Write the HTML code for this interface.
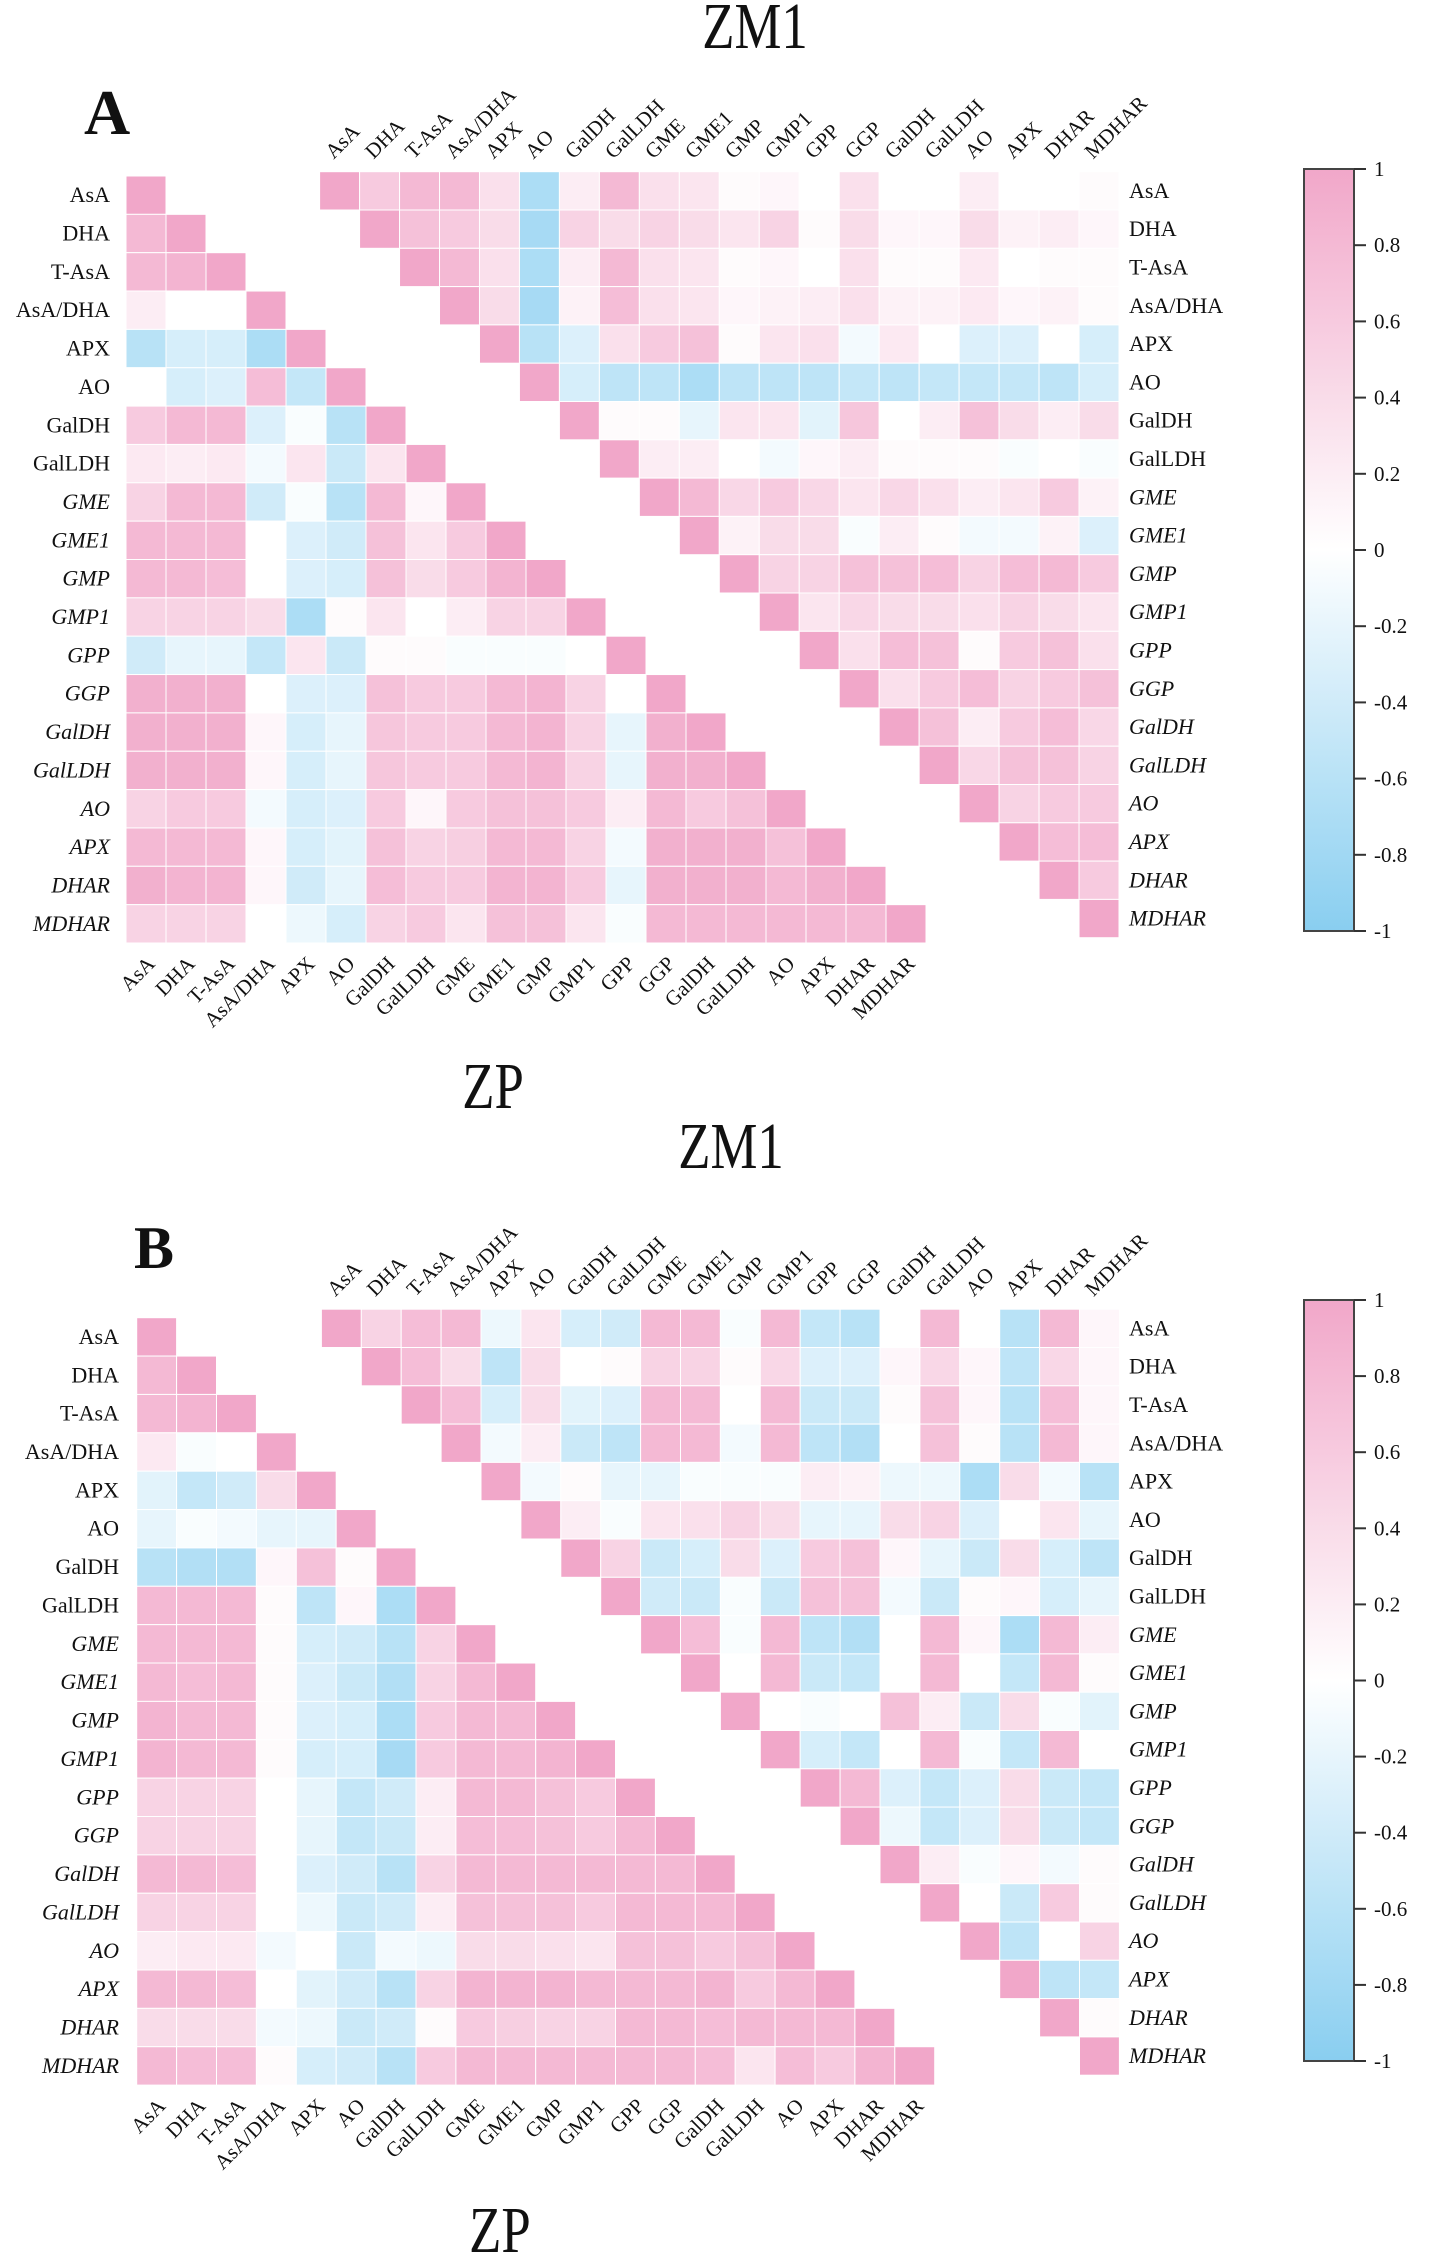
<!DOCTYPE html>
<html><head><meta charset="utf-8">
<style>
html,body{margin:0;padding:0;background:#fff;}
svg{display:block;}
text{font-family:"Liberation Serif",serif;fill:#111;}
</style></head>
<body>
<svg id="fig" xmlns="http://www.w3.org/2000/svg" width="1433" height="2262" viewBox="0 0 1433 2262">
<text x="755" y="48" font-size="66" text-anchor="middle" transform="translate(755,0) scale(0.8,1) translate(-755,0)">ZM1</text>
<text x="84" y="134" font-size="64" font-weight="bold">A</text>
<text x="493" y="1108" font-size="66" text-anchor="middle" transform="translate(493,0) scale(0.8,1) translate(-493,0)">ZP</text>
<text x="731" y="1168" font-size="66" text-anchor="middle" transform="translate(731,0) scale(0.8,1) translate(-731,0)">ZM1</text>
<text x="134" y="1268" font-size="60" font-weight="bold">B</text>
<text x="500" y="2252" font-size="66" text-anchor="middle" transform="translate(500,0) scale(0.8,1) translate(-500,0)">ZP</text>
</svg>
<script>
const labels = ["AsA","DHA","T-AsA","AsA/DHA","APX","AO","GalDH","GalLDH","GME","GME1","GMP","GMP1","GPP","GGP","GalDH","GalLDH","AO","APX","DHAR","MDHAR"];
const cbTicks = [1,0.8,0.6,0.4,0.2,0,-0.2,-0.4,-0.6,-0.8,-1];

const lowerA = [
[1],
[.8,1],
[.8,.85,1],
[.2,0,0,1],
[-.6,-.35,-.35,-.7,1],
[0,-.35,-.3,.75,-.5,1],
[.6,.8,.8,-.3,-.05,-.6,1],
[.25,.2,.25,-.1,.3,-.45,.3,1],
[.5,.8,.8,-.4,-.05,-.6,.8,.1,1],
[.8,.8,.8,0,-.3,-.4,.7,.3,.6,1],
[.8,.8,.75,0,-.3,-.35,.7,.4,.6,.85,1],
[.5,.5,.5,.4,-.7,.05,.3,0,.2,.5,.5,1],
[-.4,-.2,-.2,-.5,.3,-.45,.05,.05,-.05,-.05,-.05,0,1],
[.9,.9,.9,0,-.3,-.3,.7,.6,.6,.8,.85,.5,0,1],
[.9,.9,.9,.1,-.35,-.2,.65,.6,.6,.8,.85,.5,-.2,.9,1],
[.9,.9,.9,.1,-.35,-.2,.65,.6,.6,.8,.85,.5,-.2,.9,.9,1],
[.5,.6,.6,-.1,-.35,-.3,.6,.1,.6,.7,.7,.6,.2,.8,.6,.7,1],
[.8,.8,.8,.1,-.35,-.25,.7,.5,.55,.8,.8,.5,-.1,.9,.9,.9,.7,1],
[.9,.85,.85,.1,-.4,-.2,.75,.6,.6,.85,.85,.6,-.2,.9,.9,.9,.8,.9,1],
[.5,.5,.5,0,-.15,-.35,.5,.6,.3,.7,.7,.3,-.05,.8,.8,.8,.8,.8,.8,1]
];
const upperA = [
[1,.6,.8,.8,.35,-.7,.2,.8,.35,.3,.05,.1,0,.35,0,0,.2,0,0,.05],
[1,.7,.6,.4,-.75,.5,.4,.5,.4,.3,.5,.05,.4,.1,.1,.4,.15,.2,.1],
[1,.8,.35,-.7,.2,.8,.35,.3,.05,.1,0,.35,.05,.05,.25,0,.05,.05],
[1,.4,-.75,.15,.75,.35,.3,.1,.15,.2,.35,.15,.15,.25,.1,.15,.05],
[1,-.6,-.3,.35,.6,.7,.05,.3,.35,-.1,.25,0,-.3,-.3,0,-.35],
[1,-.35,-.55,-.55,-.7,-.55,-.55,-.55,-.5,-.55,-.5,-.5,-.5,-.55,-.35],
[1,.05,.05,-.2,.3,.3,-.25,.65,0,.2,.7,.4,.2,.4],
[1,.2,.2,0,-.1,.1,.2,.05,.05,.05,-.05,0,-.05],
[1,.8,.45,.6,.45,.3,.45,.35,.2,.3,.6,.15],
[1,.15,.4,.4,-.05,.2,.05,-.1,-.1,.15,-.3],
[1,.5,.5,.7,.7,.75,.5,.75,.8,.6],
[1,.3,.45,.4,.4,.35,.5,.4,.3],
[1,.35,.75,.7,.05,.6,.7,.35],
[1,.35,.6,.75,.5,.6,.7],
[1,.7,.2,.6,.75,.45],
[1,.45,.7,.7,.5],
[1,.5,.6,.6],
[1,.75,.75],
[1,.6],
[1]
];
const lowerB = [
[1],
[.8,1],
[.8,.85,1],
[.25,-.05,0,1],
[-.25,-.5,-.4,.4,1],
[-.2,-.05,-.1,-.2,-.2,1],
[-.6,-.65,-.65,.1,.7,.05,1],
[.8,.8,.8,.05,-.55,.1,-.7,1],
[.8,.8,.8,.05,-.35,-.4,-.6,.5,1],
[.8,.75,.8,.05,-.3,-.45,-.65,.5,.8,1],
[.85,.8,.8,.05,-.3,-.35,-.7,.6,.8,.8,1],
[.85,.8,.8,.05,-.35,-.35,-.75,.6,.8,.8,.85,1],
[.5,.5,.5,0,-.2,-.5,-.4,.2,.8,.8,.7,.6,1],
[.5,.5,.5,0,-.2,-.5,-.45,.2,.75,.75,.7,.6,.8,1],
[.8,.8,.75,0,-.3,-.4,-.6,.5,.8,.8,.8,.8,.8,.8,1],
[.5,.5,.5,0,-.15,-.45,-.4,.2,.7,.7,.7,.6,.8,.8,.8,1],
[.2,.25,.25,-.1,0,-.45,-.1,-.15,.4,.4,.35,.3,.7,.7,.6,.7,1],
[.8,.8,.75,0,-.25,-.4,-.6,.5,.85,.85,.85,.8,.8,.8,.85,.6,.8,1],
[.4,.4,.4,-.1,-.15,-.45,-.4,.05,.6,.55,.5,.5,.8,.8,.75,.8,.8,.8,1],
[.8,.75,.75,.05,-.35,-.4,-.6,.6,.8,.8,.8,.8,.8,.8,.75,.3,.75,.6,.85,1]
];
const upperB = [
[1,.5,.75,.8,-.15,.3,-.35,-.4,.8,.8,-.05,.8,-.5,-.6,0,.8,0,-.6,.8,.1],
[1,.75,.4,-.55,.4,0,.05,.5,.5,.05,.45,-.3,-.3,.1,.45,.1,-.55,.45,.1],
[1,.75,-.35,.4,-.25,-.3,.8,.8,0,.8,-.45,-.45,.05,.7,.1,-.6,.75,.1],
[1,-.1,.2,-.45,-.55,.8,.8,-.1,.8,-.55,-.65,0,.7,.05,-.6,.8,.1],
[1,-.1,.05,-.2,-.2,-.05,-.05,-.05,.2,.15,-.15,-.15,-.7,.4,-.1,-.6],
[1,.2,-.05,.3,.35,.5,.4,-.2,-.2,.4,.5,-.3,0,.3,-.2],
[1,.5,-.45,-.35,.4,-.3,.6,.7,.1,-.2,-.45,.4,-.35,-.55],
[1,-.4,-.45,-.05,-.45,.7,.7,-.1,-.45,.05,.1,-.35,-.2],
[1,.75,-.05,.8,-.55,-.65,0,.8,.1,-.7,.8,.2],
[1,0,.8,-.45,-.5,0,.8,0,-.5,.8,.05],
[1,0,-.05,0,.7,.2,-.45,.4,-.05,-.25],
[1,-.35,-.5,0,.8,-.05,-.5,.8,0],
[1,.8,-.3,-.5,-.3,.4,-.45,-.5],
[1,-.15,-.5,-.3,.4,-.45,-.5],
[1,.2,-.05,.1,-.1,.05],
[1,0,-.45,.6,.05],
[1,-.55,0,.5],
[1,-.55,-.5],
[1,.05],
[1]
];

const NS = "http://www.w3.org/2000/svg";
const svg = document.getElementById("fig");
function col(v){
  const p=[241,167,201], n=[137,206,240];
  const t=Math.min(1,Math.abs(v)), c=v>=0?p:n;
  return "rgb("+c.map(k=>Math.round(255+(k-255)*t)).join(",")+")";
}
function mk(tag, attrs){
  const e=document.createElementNS(NS,tag);
  for(const k in attrs) e.setAttribute(k,attrs[k]);
  svg.appendChild(e); return e;
}
function txt(x,y,s,size,anchor,rot,ital){
  const t=mk("text",{x:x,y:y,"font-size":size,"text-anchor":anchor});
  if(rot) t.setAttribute("transform","rotate("+rot+" "+x+" "+y+")");
  if(ital) t.setAttribute("font-style","italic");
  t.textContent=s; return t;
}
function drawTri(vals, x0, y0, cw, ch, upper, pfx){
  vals.forEach((row,i)=>{
    row.forEach((v,k)=>{
      const j = upper ? i+k : k;
      const r=mk("rect",{x:x0+j*cw,y:y0+i*ch,width:cw,height:ch,fill:col(v),stroke:"#fff","stroke-width":1});
      
      
    });
  });
}
function rowLabels(x, y0, ch, anchor, pfx){
  labels.forEach((s,i)=>{
    const t=txt(x, y0+(i+0.5)*ch+7, s, 22, anchor, 0, i>=8);
    
    
  });
}
function topLabels(x0, y0, cw, pfx){
  labels.forEach((s,j)=>{
    const t=txt(x0+j*cw+14, y0-12, s, 21, "start", -45, false);
    
    
  });
}
function bottomLabels(x0, yb, cw, pfx){
  labels.forEach((s,j)=>{
    const t=txt(x0+(j+0.5)*cw+10, yb+22, s, 21, "end", -45, false);
    
    
  });
}
function colorbar(x, y0, y1, pfx){
  const id=pfx+"grad";
  const defs=mk("defs",{});
  const g=document.createElementNS(NS,"linearGradient");
  g.setAttribute("id",id); g.setAttribute("x1","0");g.setAttribute("y1","0");g.setAttribute("x2","0");g.setAttribute("y2","1");
  cbTicks.forEach((v,i)=>{
    const s=document.createElementNS(NS,"stop");
    s.setAttribute("offset",(i/(cbTicks.length-1)));
    s.setAttribute("stop-color",col(v));
    g.appendChild(s);
  });
  defs.appendChild(g);
  const r=mk("rect",{x:x,y:y0,width:50,height:y1-y0,fill:"url(#"+id+")",stroke:"#444","stroke-width":2});
  
  
  cbTicks.forEach(v=>{
    const y=y0+(1-v)/2*(y1-y0);
    mk("line",{x1:x+50,x2:x+62,y1:y,y2:y,stroke:"#333","stroke-width":2});
    const t=txt(x+70, y+7, String(v), 21, "start", 0, false);
    
    
  });
}

// Panel A
drawTri(lowerA, 126, 176, 40.0, 38.35, false, "a-lower");
drawTri(upperA, 319.6, 171.7, 39.97, 38.3, true, "a-upper");
rowLabels(110, 176, 38.35, "end", "a-lower");
rowLabels(1129, 171.7, 38.3, "start", "a-upper");
topLabels(319.6, 171.7, 39.97, "a-upper");
bottomLabels(126, 176+20*38.35, 40.0, "a-lower");
colorbar(1304, 169, 931, "a");

// Panel B
drawTri(lowerB, 136.7, 1317.7, 39.9, 38.37, false, "b-lower");
drawTri(upperB, 321.4, 1309.2, 39.9, 38.3, true, "b-upper");
rowLabels(119, 1317.7, 38.37, "end", "b-lower");
rowLabels(1129, 1309.2, 38.3, "start", "b-upper");
topLabels(321.4, 1309.2, 39.9, "b-upper");
bottomLabels(136.7, 1317.7+20*38.37, 39.9, "b-lower");
colorbar(1304, 1300, 2061, "b");
</script>
</body></html>
